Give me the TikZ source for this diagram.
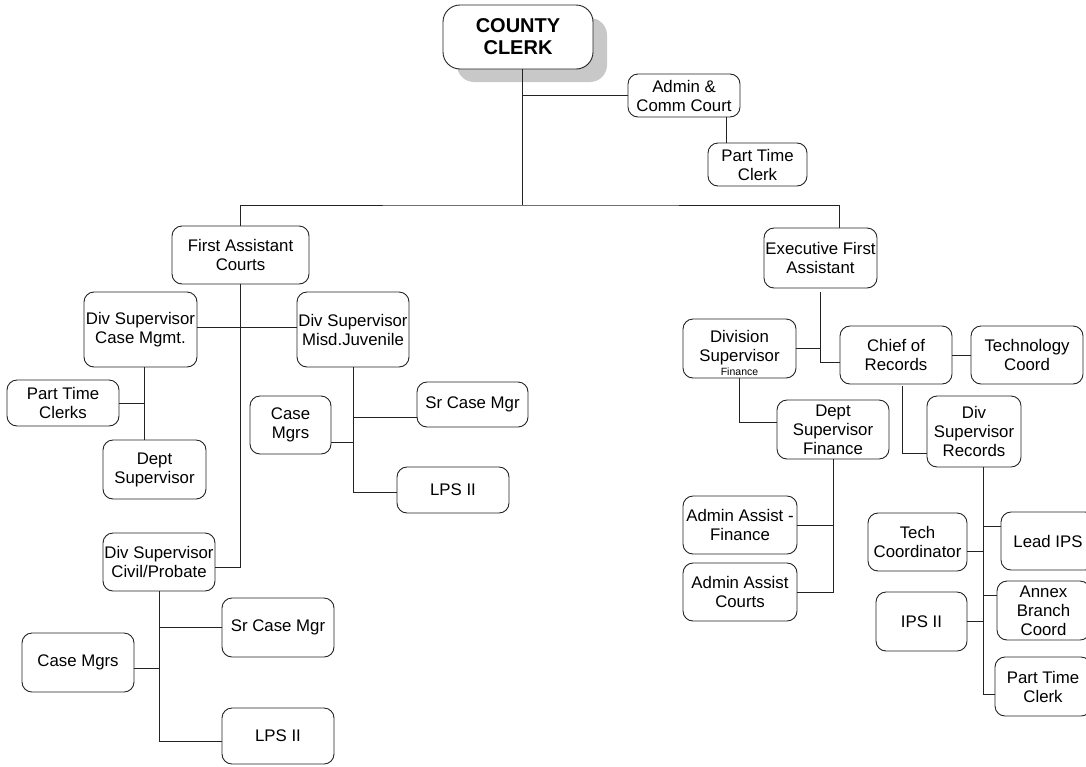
\documentclass[tikz,border=0pt]{standalone}
\usepackage{fontspec}
\setmainfont{Liberation Sans}
\usetikzlibrary{calc,shadows}

\definecolor{shadowgray}{RGB}{200,200,200}
\definecolor{linegray}{RGB}{35,35,35}

\tikzset{
  orgbox/.style={draw=linegray, line width=0.9pt, rounded corners=10pt, fill=white,
    inner sep=0pt, align=center, font=\fontsize{16.8}{19}\selectfont},
  boxtext/.style={inner sep=0pt, align=center, font=\fontsize{16.8}{19}\selectfont},
  link/.style={draw=linegray, line width=0.9pt},
}

% box given by its left, top, right and bottom edges
\newcommand{\boxat}[6][]{\node[orgbox, minimum width={#4-#2}, minimum height={#5-#3}, #1] (#6) at ({(#2+#4)/2},{(#3+#5)/2})}

\begin{document}
\begin{tikzpicture}[x=1pt,y=-1pt]
\useasboundingbox (0,0) rectangle (1086,766);
\clip (0,0) rectangle (1086,766);

% top
\boxat[rounded corners=17pt, font=\bfseries\fontsize{20}{22}\selectfont,
  drop shadow={shadow xshift=14pt, shadow yshift=-13pt, fill=shadowgray, opacity=1}]
  {443}{5}{593}{69}{cc} {COUNTY\\CLERK};
\boxat{628}{74}{740}{117}{admin} {Admin \&\\Comm Court};
\boxat{708}{143}{807}{186}{ptc1} {Part Time\\Clerk};

% courts side
\boxat{172}{226}{309}{284}{fac} {First Assistant\\Courts};
\boxat{84}{292}{197}{367}{dscm} {Div Supervisor\\Case Mgmt.};
\boxat{297}{292}{409}{367}{dsmj} {Div Supervisor\\Misd.Juvenile};
\boxat{7}{380}{119}{426}{ptcs} {Part Time\\Clerks};
\boxat{103}{440}{206}{499}{dept} {Dept\\Supervisor};
\boxat{417}{382}{528}{427}{srcm1} {Sr Case Mgr};
\boxat{250}{396}{331}{454}{cmgr1} {Case\\Mgrs};
\boxat{397}{467}{509}{513}{lps1} {LPS II};
\boxat{103}{533}{215}{591}{dscp} {Div Supervisor\\Civil/Probate};
\boxat{222}{598}{334}{657}{srcm2} {Sr Case Mgr};
\boxat{22}{633}{134}{692}{cmgr2} {Case Mgrs};
\boxat{222}{708}{334}{764}{lps2} {LPS II};

% executive side
\boxat{764}{228}{877}{288}{efa} {Executive First\\Assistant};
\boxat{683}{319}{796}{378}{dsf} {};
\node[boxtext] (dsftext) at ([yshift=-4pt]dsf.center)
  {Division\\Supervisor\\[-5pt]{\fontsize{10.5}{12}\selectfont Finance}};
\boxat{840}{326}{952}{384}{cor} {Chief of\\Records};
\boxat{971}{326}{1083}{384}{tc} {Technology\\Coord};
\boxat{777}{400}{889}{459}{dsupf} {Dept\\Supervisor\\Finance};
\boxat{927}{396}{1021}{467}{dsr} {Div\\Supervisor\\Records};
\boxat{683}{496}{797}{554}{aaf} {Admin Assist -\\Finance};
\boxat{683}{563}{797}{621}{aac} {Admin Assist\\Courts};
\boxat{868}{513}{967}{571}{tcoord} {Tech\\Coordinator};
\boxat{1001}{512}{1095}{570}{lead} {Lead IPS};
\boxat{997}{581}{1090}{640}{annex} {Annex\\Branch\\Coord};
\boxat{876}{592}{967}{651}{ips2} {IPS II};
\boxat{995}{657}{1091}{716}{ptc2} {Part Time\\Clerk};

% top connectors
\coordinate (bus) at (522,205);
\draw[link] (cc.south -| bus) -- (bus);
\draw[link] (admin.west) -- (admin.west -| bus);
\coordinate (atap) at ([xshift=-14pt]admin.south east);
\draw[link] (atap) -- (atap |- ptc1.north);
\coordinate (etap) at ([xshift=-38pt]efa.north east);
\draw[link] (fac.north) |- (bus) -| (etap);

% courts connectors
\coordinate (cpin) at ([yshift=-5pt]dscp.east);
\draw[link] (fac.south) |- (cpin);
\coordinate (cmout) at ([yshift=2.5pt]dscm.east);
\draw[link] (cmout) -- (cmout -| dsmj.west);
\coordinate (m0) at ([xshift=3.5pt]dscm.south);
\draw[link] (m0) -- (m0 |- dept.north);
\draw[link] (ptcs.east) -- (ptcs.east -| m0);
\coordinate (lps1in) at ([yshift=-2pt]lps1.west);
\draw[link] (dsmj.south) |- (lps1in);
\coordinate (sr1in) at ([yshift=-12.5pt]srcm1.west);
\draw[link] (sr1in) -- (sr1in -| dsmj.south);
\coordinate (cm1out) at ([yshift=-17pt]cmgr1.east);
\draw[link] (cm1out) -- (cm1out -| dsmj.south);
\coordinate (lps2in) at ([yshift=-5pt]lps2.west);
\draw[link] (dscp.south) |- (lps2in);
\draw[link] (srcm2.west) -- (srcm2.west -| dscp.south);
\coordinate (cm2out) at ([yshift=-5.5pt]cmgr2.east);
\draw[link] (cm2out) -- (cm2out -| dscp.south);

% executive connectors
\coordinate (e0) at ([yshift=-4pt]efa.south);
\coordinate (corin) at ([yshift=-7pt]cor.west);
\draw[link] (e0) |- (corin);
\draw[link] (dsf.east) -- (dsf.east -| e0);
\draw[link] (cor.east) -- (tc.west);
\coordinate (dsupfin) at ([yshift=7pt]dsupf.west);
\draw[link] (dsf.south) |- (dsupfin);
\coordinate (c0) at ([xshift=6pt,yshift=-2pt]cor.south);
\coordinate (dsrin) at ([yshift=-22pt]dsr.west);
\draw[link] (c0) |- (dsrin);
\draw[link] (dsupf.south) |- (aac.east);
\draw[link] (aaf.east) -- (aaf.east -| dsupf.south);
\coordinate (r0) at ([xshift=9pt]dsr.south);
\coordinate (ptc2in) at ([yshift=-7.5pt]ptc2.west);
\draw[link] (r0) |- (ptc2in);
\coordinate (leadin) at ([yshift=15pt]lead.west);
\draw[link] (leadin) -- (leadin -| r0);
\coordinate (tcin) at ([yshift=-9pt]tcoord.east);
\draw[link] (tcin) -- (tcin -| r0);
\coordinate (annexin) at ([yshift=15.5pt]annex.west);
\draw[link] (annexin) -- (annexin -| r0);
\draw[link] (ips2.east) -- (ips2.east -| r0);
\end{tikzpicture}
\end{document}
